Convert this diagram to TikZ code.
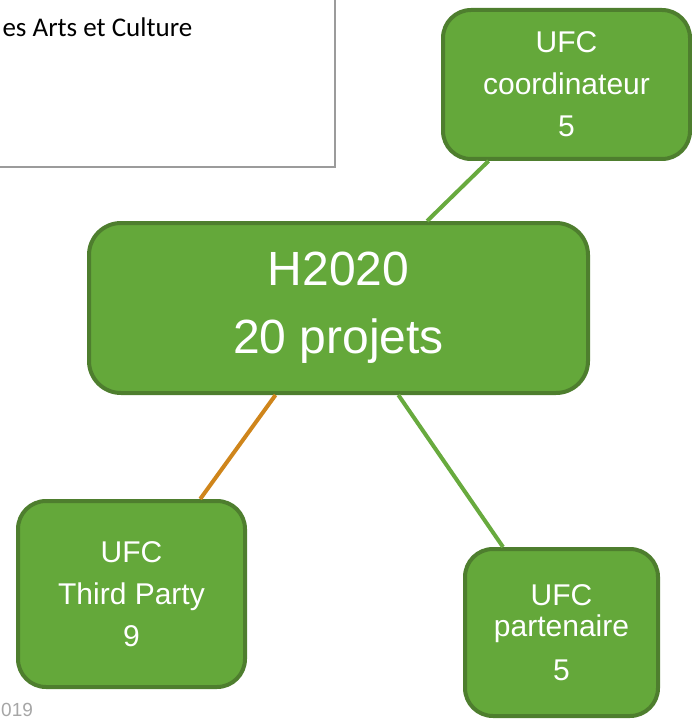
\documentclass[tikz,border=0pt]{standalone}
\usepackage{fontspec}
\setmainfont{Liberation Sans}
\newfontfamily\notefont{Carlito}
\usetikzlibrary{shapes,arrows,calc,positioning}

\definecolor{boxfill}{RGB}{100,168,58}
\definecolor{boxline}{RGB}{78,126,46}
\definecolor{linkgreen}{RGB}{104,170,62}
\definecolor{linkorange}{RGB}{207,133,27}
\definecolor{framegray}{RGB}{155,155,155}
\definecolor{yeargray}{RGB}{166,166,166}

\tikzstyle{box}=[draw=boxline, fill=boxfill, line width=4pt, rounded corners=28pt,
  inner sep=0pt, align=center, text=white, font=\fontsize{30}{42}\selectfont]
\tikzstyle{bigbox}=[box, rounded corners=32pt, font=\fontsize{48}{68}\selectfont]
\tikzstyle{link}=[draw=linkgreen, line width=4pt]
\tikzstyle{frame}=[draw=framegray, line width=1.5pt]

\begin{document}
\begin{tikzpicture}[x=1pt, y=-1pt]
\useasboundingbox (0,0) rectangle (692,719);

\draw [frame] (-20,-20) rectangle (335,167);
\node (notes) [anchor=base west, font=\notefont\fontsize{27}{30}\selectfont] at (-1,37) {es Arts et Culture};
\node (year) [anchor=base west, inner sep=0pt, text=yeargray, font=\fontsize{19}{22}\selectfont] at (1,716) {019};

\node (h2020) [bigbox, minimum width=499pt, minimum height=170pt] at (338.5,308) {H2020\\20 projets};
\node (coord) [box, minimum width=247pt, minimum height=149pt] at (566.5,84.5) {UFC\\coordinateur\\5};
\node (third) [box, minimum width=227pt, minimum height=186pt] at (131.5,594) {UFC\\Third Party\\9};
\node (partner) [box, minimum width=193pt, minimum height=167pt] at (561.5,632.5) {UFC\\[-11pt]partenaire\\[2pt]5};

\draw [link] (h2020) -- (coord);
\draw [link, draw=linkorange] (h2020) -- (third);
\draw [link] (h2020) -- (partner);

\end{tikzpicture}
\end{document}
